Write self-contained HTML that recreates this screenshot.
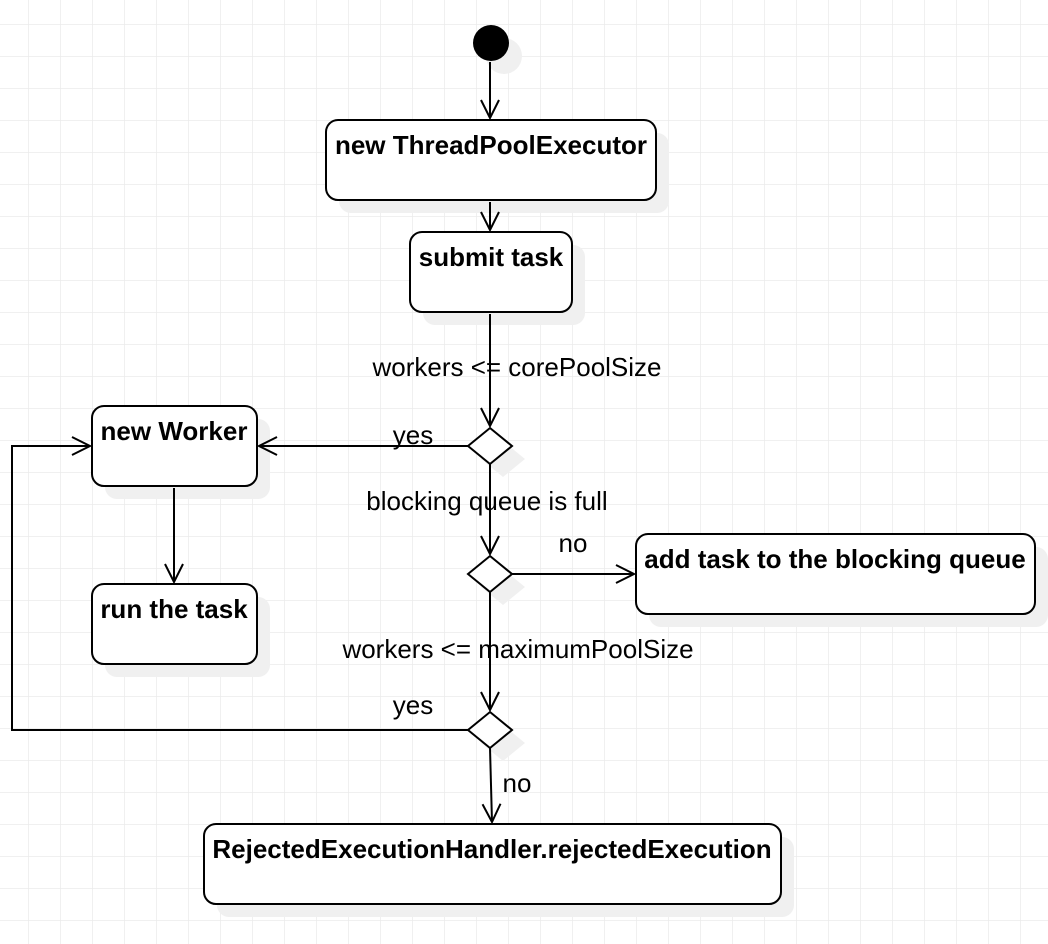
<!DOCTYPE html>
<html><head><style>
html,body{margin:0;padding:0;background:#fff;}
svg{display:block;font-family:"Liberation Sans",sans-serif;}
</style></head><body>
<svg width="1048" height="944" viewBox="0 0 1048 944">
<defs>
<pattern id="g" x="28" y="24" width="32" height="32" patternUnits="userSpaceOnUse">
<path d="M0 0H32M0 0V32" stroke="#ebebeb" stroke-width="1.5" fill="none"/>
</pattern>
<marker id="a" markerWidth="24" markerHeight="24" refX="20" refY="12" orient="auto" markerUnits="userSpaceOnUse">
<path d="M2 3L20 12L2 21" fill="none" stroke="#000" stroke-width="2"/>
</marker>
</defs>
<rect width="1048" height="944" fill="url(#g)"/>
<g fill="#f0f0f0" transform="translate(13,13)">
<circle cx="491" cy="43" r="18"/>
<rect x="326" y="120" width="330" height="80" rx="12"/>
<rect x="410" y="232" width="162" height="80" rx="12"/>
<rect x="92" y="406" width="165" height="80" rx="12"/>
<rect x="92" y="584" width="165" height="80" rx="12"/>
<rect x="636" y="534" width="399" height="80" rx="12"/>
<rect x="204" y="824" width="577" height="80" rx="12"/>
<path d="M490 428L512 446L490 464L468 446Z"/>
<path d="M490 556L512 574L490 592L468 574Z"/>
<path d="M490 712L512 730L490 748L468 730Z"/>
</g>
<g fill="#fff" stroke="#000" stroke-width="2">
<rect x="326" y="120" width="330" height="80" rx="12"/>
<rect x="410" y="232" width="162" height="80" rx="12"/>
<rect x="92" y="406" width="165" height="80" rx="12"/>
<rect x="92" y="584" width="165" height="80" rx="12"/>
<rect x="636" y="534" width="399" height="80" rx="12"/>
<rect x="204" y="824" width="577" height="80" rx="12"/>
<path d="M490 428L512 446L490 464L468 446Z"/>
<path d="M490 556L512 574L490 592L468 574Z"/>
<path d="M490 712L512 730L490 748L468 730Z"/>
</g>
<circle cx="491" cy="43" r="18" fill="#000"/>
<g stroke="#000" stroke-width="2" fill="none" marker-end="url(#a)">
<path d="M490 62V118"/>
<path d="M490 202V230"/>
<path d="M490 314V426"/>
<path d="M468 446H259"/>
<path d="M174 488V582"/>
<path d="M490 464V554"/>
<path d="M512 574H634"/>
<path d="M490 592V710"/>
<path d="M468 730H12V446H90"/>
<path d="M490 748L492 822"/>
</g>
<g font-size="26" font-weight="bold" text-anchor="middle">
<text x="491" y="154">new ThreadPoolExecutor</text>
<text x="491" y="266">submit task</text>
<text x="174" y="440">new Worker</text>
<text x="174" y="618">run the task</text>
<text x="835" y="568">add task to the blocking queue</text>
<text x="492" y="858">RejectedExecutionHandler.rejectedExecution</text>
</g>
<g font-size="26" text-anchor="middle">
<text x="517" y="376">workers &lt;= corePoolSize</text>
<text x="413" y="444">yes</text>
<text x="487" y="510">blocking queue is full</text>
<text x="573" y="552">no</text>
<text x="518" y="658">workers &lt;= maximumPoolSize</text>
<text x="413" y="714">yes</text>
<text x="517" y="792">no</text>
</g>
</svg>
</body></html>
